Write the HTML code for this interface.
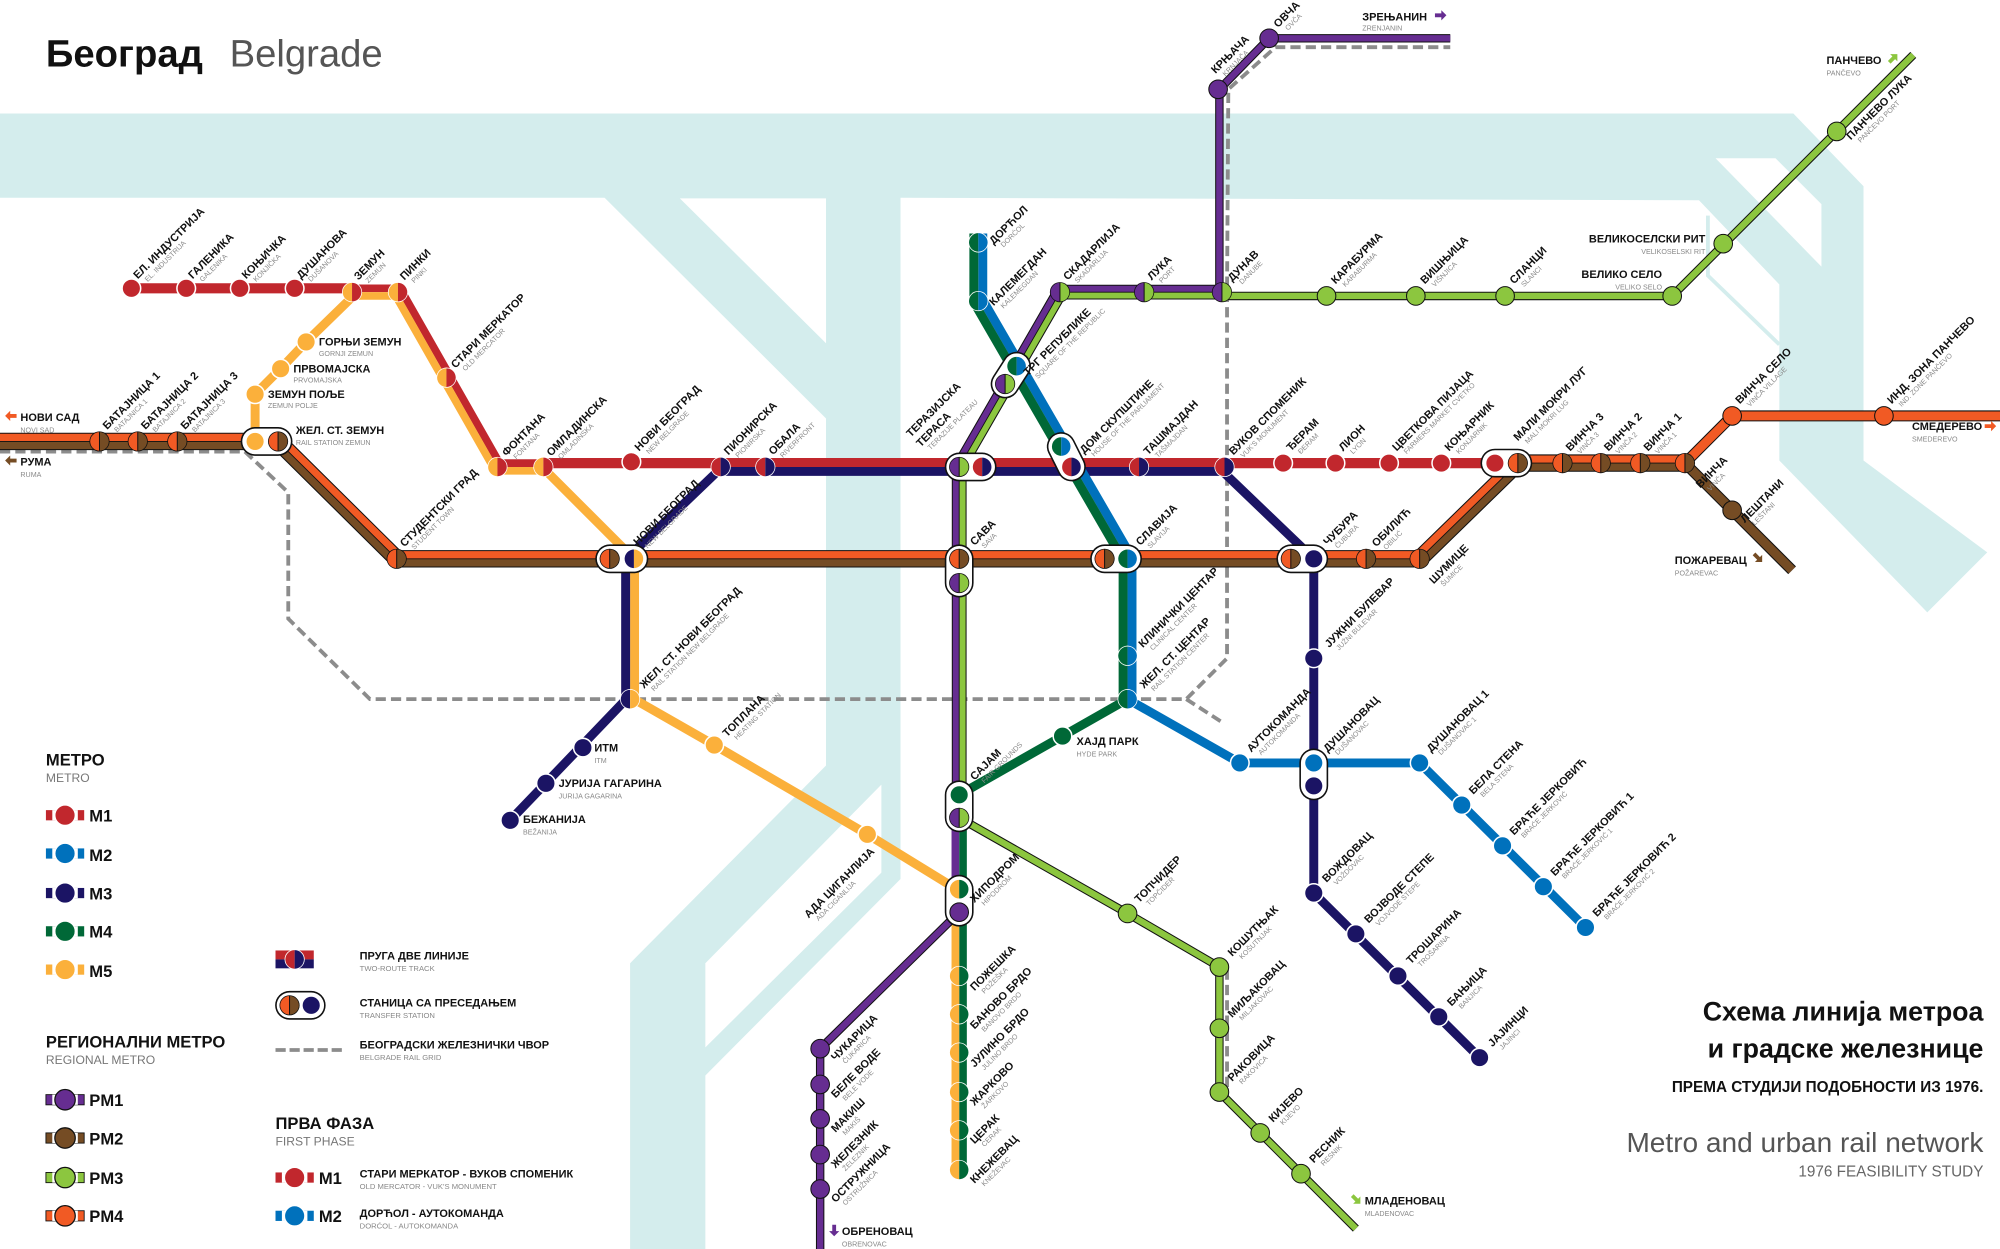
<!DOCTYPE html>
<html><head><meta charset="utf-8">
<style>
html,body{margin:0;padding:0;background:#fff;}
svg{display:block;}
text{font-family:"Liberation Sans","DejaVu Sans",sans-serif;}
.n{font-size:8.6px;font-weight:bold;fill:#111;}
.s{font-size:5.6px;fill:#8a8a8a;}
.h{font-size:13px;font-weight:bold;fill:#111;}
.hs{font-size:9.5px;fill:#777;}
.lg{font-size:13px;font-weight:bold;fill:#111;}
.ln{font-size:8.6px;font-weight:bold;fill:#111;}
.ls{font-size:6px;fill:#888;}
</style></head>
<body>
<svg id="map" width="2000" height="1249" viewBox="0 0 1568 979" preserveAspectRatio="none" xmlns="http://www.w3.org/2000/svg">
<rect width="1568" height="979" fill="#fff"/>
<!-- rivers -->
<g fill="#d4eded">
<polygon points="0,89 1406,89 1461,146 1461,361 1558,433 1511,480 1395,361 1395,223 1332,157 706,155 706,689 553,843 553,979 494,979 494,755 647.6,600 647.6,328 474,155 0,155"/>
</g>
<g fill="#fff">
<polygon points="533,155.5 647.6,155.5 647.6,269"/>
<polygon points="1345,124 1392,124 1428,160 1428,209"/>
<polygon points="553,755 691,615 691,684 553,821"/>
</g>
<polyline points="1339,169 1339,216 1395,270" fill="none" stroke="#d4eded" stroke-width="3"/>
<g id="shapes"></g>

<!-- Title -->
<text x="36" y="52" style="font-size:30px;font-weight:bold;fill:#111">Београд</text>
<text x="180" y="52" style="font-size:30px;fill:#555">Belgrade</text>

<!-- rotated station labels -->
<g transform="translate(108,219) rotate(-45)"><text class="n">ЕЛ. ИНДУСТРИЈА</text><text class="s" x="4" y="7">EL. INDUSTRIJA</text></g>
<g transform="translate(151,219) rotate(-45)"><text class="n">ГАЛЕНИКА</text><text class="s" x="4" y="7">GALENIKA</text></g>
<g transform="translate(193,219) rotate(-45)"><text class="n">КОЊИЧКА</text><text class="s" x="4" y="7">KONJIČKA</text></g>
<g transform="translate(236,219) rotate(-45)"><text class="n">ДУШАНОВА</text><text class="s" x="4" y="7">DUŠANOVA</text></g>
<g transform="translate(281,220) rotate(-45)"><text class="n">ЗЕМУН</text><text class="s" x="4" y="7">ZEMUN</text></g>
<g transform="translate(317,220) rotate(-45)"><text class="n">ПИНКИ</text><text class="s" x="4" y="7">PINKI</text></g>
<g transform="translate(357,289) rotate(-45)"><text class="n">СТАРИ МЕРКАТОР</text><text class="s" x="4" y="7">OLD MERCATOR</text></g>
<g transform="translate(397,358) rotate(-45)"><text class="n">ФОНТАНА</text><text class="s" x="4" y="7">FONTANA</text></g>
<g transform="translate(432,358) rotate(-45)"><text class="n">ОМЛАДИНСКА</text><text class="s" x="4" y="7">OMLADINSKA</text></g>
<g transform="translate(501,354) rotate(-45)"><text class="n">НОВИ БЕОГРАД</text><text class="s" x="4" y="7">NEW BELGRADE</text></g>
<g transform="translate(571,357) rotate(-45)"><text class="n">ПИОНИРСКА</text><text class="s" x="4" y="7">PIONIRSKA</text></g>
<g transform="translate(606,357) rotate(-45)"><text class="n">ОБАЛА</text><text class="s" x="4" y="7">RIVERFRONT</text></g>
<g transform="translate(714,343) rotate(-45)"><text class="n">ТЕРАЗИЈСКА</text><text class="n" y="11">ТЕРАСА</text><text class="s" x="4" y="18">TERAZIJE PLATEAU</text></g>
<g transform="translate(850,356) rotate(-45)"><text class="n">ДОМ СКУПШТИНЕ</text><text class="s" x="4" y="7">HOUSE OF THE PARLIAMENT</text></g>
<g transform="translate(900,357) rotate(-45)"><text class="n">ТАШМАЈДАН</text><text class="s" x="4" y="7">TAŠMAJDAN</text></g>
<g transform="translate(967,357) rotate(-45)"><text class="n">ВУКОВ СПОМЕНИК</text><text class="s" x="4" y="7">VUK'S MONUMENT</text></g>
<g transform="translate(1012,354) rotate(-45)"><text class="n">ЂЕРАМ</text><text class="s" x="4" y="7">ĐERAM</text></g>
<g transform="translate(1053,354) rotate(-45)"><text class="n">ЛИОН</text><text class="s" x="4" y="7">LYON</text></g>
<g transform="translate(1095,354) rotate(-45)"><text class="n">ЦВЕТКОВА ПИЈАЦА</text><text class="s" x="4" y="7">FARMERS MARKET CVETKO</text></g>
<g transform="translate(1136,354) rotate(-45)"><text class="n">КОЊАРНИК</text><text class="s" x="4" y="7">KONJARNIK</text></g>
<g transform="translate(1190,346) rotate(-45)"><text class="n">МАЛИ МОКРИ ЛУГ</text><text class="s" x="4" y="7">MALI MOKRI LUG</text></g>
<g transform="translate(1231,354) rotate(-45)"><text class="n">ВИНЧА 3</text><text class="s" x="4" y="7">VINČA 3</text></g>
<g transform="translate(1261,354) rotate(-45)"><text class="n">ВИНЧА 2</text><text class="s" x="4" y="7">VINČA 2</text></g>
<g transform="translate(1292,354) rotate(-45)"><text class="n">ВИНЧА 1</text><text class="s" x="4" y="7">VINČA 1</text></g>
<g transform="translate(1333,383) rotate(-45)"><text class="n">ВИНЧА</text><text class="s" x="4" y="7">VINČA</text></g>
<g transform="translate(1364,317) rotate(-45)"><text class="n">ВИНЧА СЕЛО</text><text class="s" x="4" y="7">VINČA VILLAGE</text></g>
<g transform="translate(1483,317) rotate(-45)"><text class="n">ИНД. ЗОНА ПАНЧЕВО</text><text class="s" x="4" y="7">IND. ZONE PANČEVO</text></g>
<g transform="translate(1368,410) rotate(-45)"><text class="n">ЛЕШТАНИ</text><text class="s" x="4" y="7">LEŠTANI</text></g>
<g transform="translate(84,337) rotate(-45)"><text class="n">БАТАЈНИЦА 1</text><text class="s" x="4" y="7">BATAJNICA 1</text></g>
<g transform="translate(114,337) rotate(-45)"><text class="n">БАТАЈНИЦА 2</text><text class="s" x="4" y="7">BATAJNICA 2</text></g>
<g transform="translate(145,337) rotate(-45)"><text class="n">БАТАЈНИЦА 3</text><text class="s" x="4" y="7">BATAJNICA 3</text></g>
<g transform="translate(317,429) rotate(-45)"><text class="n">СТУДЕНТСКИ ГРАД</text><text class="s" x="4" y="7">STUDENT TOWN</text></g>
<g transform="translate(500,428) rotate(-45)"><text class="n">НОВИ БЕОГРАД</text><text class="s" x="4" y="7">NEW BELGRADE</text></g>
<g transform="translate(764,428) rotate(-45)"><text class="n">САВА</text><text class="s" x="4" y="7">SAVA</text></g>
<g transform="translate(894,428) rotate(-45)"><text class="n">СЛАВИЈА</text><text class="s" x="4" y="7">SLAVIJA</text></g>
<g transform="translate(1041,428) rotate(-45)"><text class="n">ЧУБУРА</text><text class="s" x="4" y="7">ČUBURA</text></g>
<g transform="translate(1079,429) rotate(-45)"><text class="n">ОБИЛИЋ</text><text class="s" x="4" y="7">OBILIĆ</text></g>
<g transform="translate(1124,458) rotate(-45)"><text class="n">ШУМИЦЕ</text><text class="s" x="4" y="7">ŠUMICE</text></g>
<g transform="translate(505,540) rotate(-45)"><text class="n">ЖЕЛ. СТ. НОВИ БЕОГРАД</text><text class="s" x="4" y="7">RAIL STATION NEW BELGRADE</text></g>
<g transform="translate(570,578) rotate(-45)"><text class="n">ТОПЛАНА</text><text class="s" x="4" y="7">HEATING STATION</text></g>
<g transform="translate(634,720) rotate(-45)"><text class="n">АДА ЦИГАНЛИЈА</text><text class="s" x="4" y="7">ADA CIGANLIJA</text></g>
<g transform="translate(764,708) rotate(-45)"><text class="n">ХИПОДРОМ</text><text class="s" x="4" y="7">HIPODROM</text></g>
<g transform="translate(764,777) rotate(-45)"><text class="n">ПОЖЕШКА</text><text class="s" x="4" y="7">POŽEŠKA</text></g>
<g transform="translate(764,807) rotate(-45)"><text class="n">БАНОВО БРДО</text><text class="s" x="4" y="7">BANOVO BRDO</text></g>
<g transform="translate(764,837) rotate(-45)"><text class="n">ЈУЛИНО БРДО</text><text class="s" x="4" y="7">JULINO BRDO</text></g>
<g transform="translate(764,867) rotate(-45)"><text class="n">ЖАРКОВО</text><text class="s" x="4" y="7">ŽARKOVO</text></g>
<g transform="translate(764,897) rotate(-45)"><text class="n">ЦЕРАК</text><text class="s" x="4" y="7">CERAK</text></g>
<g transform="translate(764,928) rotate(-45)"><text class="n">КНЕЖЕВАЦ</text><text class="s" x="4" y="7">KNEŽEVAC</text></g>
<g transform="translate(655,832) rotate(-45)"><text class="n">ЧУКАРИЦА</text><text class="s" x="4" y="7">ČUKARICA</text></g>
<g transform="translate(655,861) rotate(-45)"><text class="n">БЕЛЕ ВОДЕ</text><text class="s" x="4" y="7">BELE VODE</text></g>
<g transform="translate(655,888) rotate(-45)"><text class="n">МАКИШ</text><text class="s" x="4" y="7">MAKIŠ</text></g>
<g transform="translate(655,916) rotate(-45)"><text class="n">ЖЕЛЕЗНИК</text><text class="s" x="4" y="7">ŽELEZNIK</text></g>
<g transform="translate(655,943) rotate(-45)"><text class="n">ОСТРУЖНИЦА</text><text class="s" x="4" y="7">OSTRUŽNICA</text></g>
<g transform="translate(779,192) rotate(-45)"><text class="n">ДОРЋОЛ</text><text class="s" x="4" y="7">DORĆOL</text></g>
<g transform="translate(779,240) rotate(-45)"><text class="n">КАЛЕМЕГДАН</text><text class="s" x="4" y="7">KALEMEGDAN</text></g>
<g transform="translate(806,295) rotate(-45)"><text class="n">ТРГ РЕПУБЛИКЕ</text><text class="s" x="4" y="7">SQUARE OF THE REPUBLIC</text></g>
<g transform="translate(837,220) rotate(-45)"><text class="n">СКАДАРЛИЈА</text><text class="s" x="4" y="7">SKADARLIJA</text></g>
<g transform="translate(903,220) rotate(-45)"><text class="n">ЛУКА</text><text class="s" x="4" y="7">PORT</text></g>
<g transform="translate(966,221) rotate(-45)"><text class="n">ДУНАВ</text><text class="s" x="4" y="7">DANUBE</text></g>
<g transform="translate(1047,223) rotate(-45)"><text class="n">КАРАБУРМА</text><text class="s" x="4" y="7">KARABURMA</text></g>
<g transform="translate(1117,223) rotate(-45)"><text class="n">ВИШЊИЦА</text><text class="s" x="4" y="7">VIŠNJICA</text></g>
<g transform="translate(1187,223) rotate(-45)"><text class="n">СЛАНЦИ</text><text class="s" x="4" y="7">SLANCI</text></g>
<g transform="translate(1451,110) rotate(-45)"><text class="n">ПАНЧЕВО ЛУКА</text><text class="s" x="4" y="7">PANČEVO PORT</text></g>
<g transform="translate(953,58) rotate(-45)"><text class="n">КРЊАЧА</text><text class="s" x="4" y="7">KRNJAČA</text></g>
<g transform="translate(1002,22) rotate(-45)"><text class="n">ОВЧА</text><text class="s" x="4" y="7">OVČA</text></g>
<g transform="translate(896,508) rotate(-45)"><text class="n">КЛИНИЧКИ ЦЕНТАР</text><text class="s" x="4" y="7">CLINICAL CENTER</text></g>
<g transform="translate(897,540) rotate(-45)"><text class="n">ЖЕЛ. СТ. ЦЕНТАР</text><text class="s" x="4" y="7">RAIL STATION CENTER</text></g>
<g transform="translate(764,612) rotate(-45)"><text class="n">САЈАМ</text><text class="s" x="4" y="7">FAIR GROUNDS</text></g>
<g transform="translate(1042,508) rotate(-45)"><text class="n">ЈУЖНИ БУЛЕВАР</text><text class="s" x="4" y="7">JUŽNI BULEVAR</text></g>
<g transform="translate(981,590) rotate(-45)"><text class="n">АУТОКОМАНДА</text><text class="s" x="4" y="7">AUTOKOMANDA</text></g>
<g transform="translate(1041,590) rotate(-45)"><text class="n">ДУШАНОВАЦ</text><text class="s" x="4" y="7">DUŠANOVAC</text></g>
<g transform="translate(1122,590) rotate(-45)"><text class="n">ДУШАНОВАЦ 1</text><text class="s" x="4" y="7">DUŠANOVAC 1</text></g>
<g transform="translate(1155,623) rotate(-45)"><text class="n">БЕЛА СТЕНА</text><text class="s" x="4" y="7">BELA STENA</text></g>
<g transform="translate(1187,655) rotate(-45)"><text class="n">БРАЋЕ ЈЕРКОВИЋ</text><text class="s" x="4" y="7">BRAĆE JERKOVIĆ</text></g>
<g transform="translate(1219,687) rotate(-45)"><text class="n">БРАЋЕ ЈЕРКОВИЋ 1</text><text class="s" x="4" y="7">BRAĆE JERKOVIĆ 1</text></g>
<g transform="translate(1252,719) rotate(-45)"><text class="n">БРАЋЕ ЈЕРКОВИЋ 2</text><text class="s" x="4" y="7">BRAĆE JERKOVIĆ 2</text></g>
<g transform="translate(893,708) rotate(-45)"><text class="n">ТОПЧИДЕР</text><text class="s" x="4" y="7">TOPČIDER</text></g>
<g transform="translate(1040,692) rotate(-45)"><text class="n">ВОЖДОВАЦ</text><text class="s" x="4" y="7">VOŽDOVAC</text></g>
<g transform="translate(1073,724) rotate(-45)"><text class="n">ВОЈВОДЕ СТЕПЕ</text><text class="s" x="4" y="7">VOJVODE STEPE</text></g>
<g transform="translate(1106,756) rotate(-45)"><text class="n">ТРОШАРИНА</text><text class="s" x="4" y="7">TROŠARINA</text></g>
<g transform="translate(1138,789) rotate(-45)"><text class="n">БАЊИЦА</text><text class="s" x="4" y="7">BANJICA</text></g>
<g transform="translate(1170,821) rotate(-45)"><text class="n">ЈАЈИНЦИ</text><text class="s" x="4" y="7">JAJINCI</text></g>
<g transform="translate(966,750) rotate(-45)"><text class="n">КОШУТЊАК</text><text class="s" x="4" y="7">KOŠUTNJAK</text></g>
<g transform="translate(966,798) rotate(-45)"><text class="n">МИЉАКОВАЦ</text><text class="s" x="4" y="7">MILJAKOVAC</text></g>
<g transform="translate(966,848) rotate(-45)"><text class="n">РАКОВИЦА</text><text class="s" x="4" y="7">RAKOVICA</text></g>
<g transform="translate(998,880) rotate(-45)"><text class="n">КИЈЕВО</text><text class="s" x="4" y="7">KIJEVO</text></g>
<g transform="translate(1030,912) rotate(-45)"><text class="n">РЕСНИК</text><text class="s" x="4" y="7">RESNIK</text></g>

<!-- horizontal labels -->
<text class="n" x="250" y="271">ГОРЊИ ЗЕМУН</text><text class="s" x="250" y="279">GORNJI ZEMUN</text>
<text class="n" x="230" y="292">ПРВОМАЈСКА</text><text class="s" x="230" y="300">PRVOMAJSKA</text>
<text class="n" x="210" y="312">ЗЕМУН ПОЉЕ</text><text class="s" x="210" y="320">ZEMUN POLJE</text>
<text class="n" x="232" y="340">ЖЕЛ. СТ. ЗЕМУН</text><text class="s" x="232" y="349">RAIL STATION ZEMUN</text>
<text class="n" x="16" y="330">НОВИ САД</text><text class="s" x="16" y="339">NOVI SAD</text>
<text class="n" x="16" y="365">РУМА</text><text class="s" x="16" y="374">RUMA</text>
<text class="n" x="466" y="589">ИТМ</text><text class="s" x="466" y="598">ITM</text>
<text class="n" x="438" y="617">ЈУРИЈА ГАГАРИНА</text><text class="s" x="438" y="626">JURIJA GAGARINA</text>
<text class="n" x="410" y="645">БЕЖАНИЈА</text><text class="s" x="410" y="654">BEŽANIJA</text>
<text class="n" x="844" y="584">ХАЈД ПАРК</text><text class="s" x="844" y="593">HYDE PARK</text>
<text class="n" x="660" y="968">ОБРЕНОВАЦ</text><text class="s" x="660" y="977">OBRENOVAC</text>
<text class="n" x="1070" y="944">МЛАДЕНОВАЦ</text><text class="s" x="1070" y="953">MLADENOVAC</text>
<text class="n" x="1068" y="16">ЗРЕЊАНИН</text><text class="s" x="1068" y="24">ZRENJANIN</text>
<text class="n" x="1432" y="50">ПАНЧЕВО</text><text class="s" x="1432" y="59">PANČEVO</text>
<text class="n" x="1337" y="190" text-anchor="end">ВЕЛИКОСЕЛСКИ РИТ</text><text class="s" x="1337" y="199" text-anchor="end">VELIKOSELSKI RIT</text>
<text class="n" x="1303" y="218" text-anchor="end">ВЕЛИКО СЕЛО</text><text class="s" x="1303" y="227" text-anchor="end">VELIKO SELO</text>
<text class="n" x="1499" y="337">СМЕДЕРЕВО</text><text class="s" x="1499" y="346">SMEDEREVO</text>
<text class="n" x="1313" y="442">ПОЖАРЕВАЦ</text><text class="s" x="1313" y="451">POŽAREVAC</text>

<!-- legend -->
<text class="h" x="36" y="600">МЕТРО</text><text class="hs" x="36" y="613">METRO</text>
<text class="lg" x="70" y="644">M1</text>
<text class="lg" x="70" y="675">M2</text>
<text class="lg" x="70" y="705">M3</text>
<text class="lg" x="70" y="735">M4</text>
<text class="lg" x="70" y="766">M5</text>
<text class="h" x="36" y="821">РЕГИОНАЛНИ МЕТРО</text><text class="hs" x="36" y="834">REGIONAL METRO</text>
<text class="lg" x="70" y="867">PM1</text>
<text class="lg" x="70" y="897">PM2</text>
<text class="lg" x="70" y="928">PM3</text>
<text class="lg" x="70" y="958">PM4</text>
<text class="ln" x="282" y="752">ПРУГА ДВЕ ЛИНИЈЕ</text><text class="ls" x="282" y="761">TWO-ROUTE TRACK</text>
<text class="ln" x="282" y="789">СТАНИЦА СА ПРЕСЕДАЊЕМ</text><text class="ls" x="282" y="798">TRANSFER STATION</text>
<text class="ln" x="282" y="822">БЕОГРАДСКИ ЖЕЛЕЗНИЧКИ ЧВОР</text><text class="ls" x="282" y="831">BELGRADE RAIL GRID</text>
<text class="h" x="216" y="885">ПРВА ФАЗА</text><text class="hs" x="216" y="898">FIRST PHASE</text>
<text class="lg" x="250" y="928">M1</text>
<text class="ln" x="282" y="923">СТАРИ МЕРКАТОР - ВУКОВ СПОМЕНИК</text><text class="ls" x="282" y="932">OLD MERCATOR - VUK'S MONUMENT</text>
<text class="lg" x="250" y="958">M2</text>
<text class="ln" x="282" y="954">ДОРЋОЛ - АУТОКОМАНДА</text><text class="ls" x="282" y="963">DORĆOL - AUTOKOMANDA</text>

<!-- bottom right title -->
<text x="1555" y="800" text-anchor="end" style="font-size:21px;font-weight:bold;fill:#111">Схема линија метроа</text>
<text x="1555" y="829" text-anchor="end" style="font-size:21px;font-weight:bold;fill:#111">и градске  железнице</text>
<text x="1555" y="856" text-anchor="end" style="font-size:12px;font-weight:bold;fill:#111">ПРЕМА СТУДИЈИ ПОДОБНОСТИ ИЗ 1976.</text>
<text x="1555" y="903" text-anchor="end" style="font-size:22px;fill:#555">Metro and urban rail network</text>
<text x="1555" y="922" text-anchor="end" style="font-size:12px;fill:#666">1976 FEASIBILITY STUDY</text>
</svg>
<script>
(function(){
const C={r:'#c1272d',b:'#0071bc',n:'#1b1464',g:'#006837',y:'#fbb03b',p:'#662d91',br:'#754c24',lg:'#8cc63f',o:'#f15a24',k:'#111'};
const S=[];
const P=a=>a.map(p=>p[0].toFixed(1)+','+p[1].toFixed(1)).join(' ');
function poly(pts,c,w,ex){S.push('<polyline points="'+P(pts)+'" fill="none" stroke="'+c+'" stroke-width="'+w+'" stroke-linejoin="miter" '+(ex||'')+'/>');}
function segN(a,b){const dx=b[0]-a[0],dy=b[1]-a[1],L=Math.hypot(dx,dy);return [dy/L,-dx/L];}
function off(pts,d){const r=[];for(let i=0;i<pts.length;i++){let n;
 if(i==0)n=segN(pts[0],pts[1]);else if(i==pts.length-1)n=segN(pts[i-1],pts[i]);
 else{const a=segN(pts[i-1],pts[i]),b=segN(pts[i],pts[i+1]);const m=[a[0]+b[0],a[1]+b[1]];const dt=m[0]*a[0]+m[1]*a[1];n=[m[0]/dt,m[1]/dt];}
 r.push([pts[i][0]+n[0]*d,pts[i][1]+n[1]*d]);}return r;}
function twin(pts,cp,cm,w,ol){if(ol)poly(pts,C.k,2*w+1.6);poly(off(pts,w/2),cp,w);poly(off(pts,-w/2),cm,w);if(ol)poly(pts,C.k,0.7);}
function one(pts,c,w,ol){if(ol)poly(pts,C.k,w+1.6);poly(pts,c,w);}
const dash='stroke-dasharray="8,4"';
// dashed rail
poly([[0,354],[192,354],[226,386],[226,485],[290,548],[930,548],[962,516],[962,229],[963,70],[1000,37],[1137,37]],'#8c8c8c',3,dash);
poly([[930,548],[958,566]],'#8c8c8c',3,dash);
poly([[962,760],[962,860],[1058,956]],'#8c8c8c',3,dash);
// lines
one([[103,226],[279,226]],C.r,8);
twin([[276,229],[312,229],[390,366],[426,366]],C.r,C.y,6);
one([[426,363],[568,363]],C.r,8);
twin([[565,366],[962,366]],C.r,C.n,7);
one([[960,363],[1172,363]],C.r,8);
one([[200,346],[200,309],[220,289],[240,268],[277,232]],C.y,7);
one([[428,369],[497,438]],C.y,7);
twin([[494,438],[494,548]],C.y,C.n,7);
one([[497,548],[560,584],[680,654],[750,697]],C.y,7);
one([[491,548],[400,643]],C.n,7);
one([[491,438],[562,370]],C.n,7);
one([[958,369],[1030,438],[1030,700],[1160,829]],C.n,7);
twin([[767,183],[767,236],[884,438],[884,548]],C.b,C.g,7);
one([[884,548],[833,577],[752,623]],C.g,7);
one([[884,548],[972,598],[1113,598],[1243,727]],C.b,7);
twin([[958,229],[831,229],[752,366],[752,641]],C.lg,C.p,5,true);
twin([[752,641],[752,697]],C.g,C.p,6);
twin([[752,697],[752,917]],C.g,C.y,6);
one([[956,229],[956,70],[995,30],[1137,30]],C.p,5,true);
one([[752,715],[643,822],[643,979]],C.p,5,true);
one([[958,232],[1311,232],[1500,43]],C.lg,5,true);
one([[752,641],[884,716],[956,758],[956,856],[1063,963]],C.lg,5,true);
twin([[0,346],[218,346],[311,438],[1113,438],[1190,363],[1321,363]],C.o,C.br,6,true);
one([[1321,363],[1358,326],[1568,326]],C.o,7,true);
one([[1321,363],[1405,447]],C.br,7,true);
// pills
const R=7.3;
function pill(a,b){S.push('<line x1="'+a[0]+'" y1="'+a[1]+'" x2="'+b[0]+'" y2="'+b[1]+'" stroke="#111" stroke-width="'+(2*R+8)+'" stroke-linecap="round"/>');
 S.push('<line x1="'+a[0]+'" y1="'+a[1]+'" x2="'+b[0]+'" y2="'+b[1]+'" stroke="#fff" stroke-width="'+(2*R+5.5)+'" stroke-linecap="round"/>');}
[[[200,346],[218,346]],[[478,438],[497,438]],[[752,438],[752,457]],[[866,438],[884,438]],[[1012,438],[1030,438]],[[1172,363],[1190,363]],[[752,366],[770,366]],[[832,350],[840,366]],[[797,287],[788,301]],[[752,623],[752,641]],[[752,697],[752,715]],[[1030,598],[1030,616]]].forEach(p=>pill(p[0],p[1]));
function st(x,y,c1,c2,pm){
 if(!c2){S.push('<circle cx="'+x+'" cy="'+y+'" r="'+R+'" fill="'+c1+'" stroke="'+(pm?'#111':'#fff')+'" stroke-width="'+(pm?0.8:1.2)+'"/>');return;}
 S.push('<circle cx="'+x+'" cy="'+y+'" r="'+(R+0.6)+'" fill="'+(pm?'#111':'#fff')+'"/>');
 S.push('<path d="M'+x+' '+(y-R)+'A'+R+' '+R+' 0 0 0 '+x+' '+(y+R)+'Z" fill="'+c1+'"/>');
 S.push('<path d="M'+x+' '+(y-R)+'A'+R+' '+R+' 0 0 1 '+x+' '+(y+R)+'Z" fill="'+c2+'"/>');
 if(pm)S.push('<line x1="'+x+'" y1="'+(y-R)+'" x2="'+x+'" y2="'+(y+R)+'" stroke="#111" stroke-width="0.8"/>');
}
[[103,226],[146,226],[188,226],[231,226],[1006,363],[1047,363],[1089,363],[1130,363],[495,362],[1172,363]].forEach(p=>st(p[0],p[1],C.r));
[[276,229],[312,229],[350,296],[390,366],[426,366]].forEach(p=>st(p[0],p[1],C.y,C.r));
[[565,366],[600,366],[893,366],[960,366],[770,366],[840,366]].forEach(p=>st(p[0],p[1],C.r,C.n));
[[240,268],[220,289],[200,309],[200,346],[560,584],[680,654]].forEach(p=>st(p[0],p[1],C.y));
[[497,438],[494,548]].forEach(p=>st(p[0],p[1],C.n,C.y));
[[457,586],[428,614],[400,643],[1030,438],[1030,516],[1030,616],[1030,700],[1063,732],[1096,765],[1128,797],[1160,829]].forEach(p=>st(p[0],p[1],C.n));
[[972,598],[1030,598],[1113,598],[1146,631],[1178,663],[1210,695],[1243,727]].forEach(p=>st(p[0],p[1],C.b));
[[767,190],[767,236],[797,287],[832,350],[884,438],[884,514],[884,548]].forEach(p=>st(p[0],p[1],C.g,C.b));
[[833,577],[752,623]].forEach(p=>st(p[0],p[1],C.g));
[[752,697],[752,765],[752,795],[752,825],[752,856],[752,886],[752,917]].forEach(p=>st(p[0],p[1],C.y,C.g));
[[831,229],[897,229],[958,229],[788,301],[752,366],[752,457],[752,641]].forEach(p=>st(p[0],p[1],C.p,C.lg,true));
[[955,70],[995,30],[643,822],[643,850],[643,877],[643,905],[643,932],[752,715]].forEach(p=>st(p[0],p[1],C.p,null,true));
[[1040,232],[1110,232],[1180,232],[1311,232],[1351,191],[1440,103],[884,716],[956,758],[956,806],[956,856],[988,888],[1020,920]].forEach(p=>st(p[0],p[1],C.lg,null,true));
[[78,346],[108,346],[139,346],[218,346],[311,438],[478,438],[752,438],[866,438],[1012,438],[1071,438],[1113,438],[1190,363],[1225,363],[1255,363],[1286,363],[1321,363]].forEach(p=>st(p[0],p[1],C.o,C.br,true));
[[1358,326],[1477,326]].forEach(p=>st(p[0],p[1],C.o,null,true));
st(1358,400,C.br,null,true);
// legend icons
function icon(y,c,pm,x0){x0=x0||36;S.push('<rect x="'+x0+'" y="'+(y-4)+'" width="30" height="8" fill="'+c+'" stroke="'+(pm?'#111':'none')+'" stroke-width="0.7"/>');
 S.push('<rect x="'+(x0+5)+'" y="'+(y-4)+'" width="3" height="8" fill="#fff"/><rect x="'+(x0+22)+'" y="'+(y-4)+'" width="3" height="8" fill="#fff"/>');
 S.push('<circle cx="'+(x0+15)+'" cy="'+y+'" r="8" fill="'+c+'" stroke="'+(pm?'#111':'#fff')+'" stroke-width="1"/>');}
icon(639,C.r);icon(669,C.b);icon(700,C.n);icon(730,C.g);icon(760,C.y);
icon(862,C.p,1);icon(892,C.br,1);icon(923,C.lg,1);icon(953,C.o,1);
icon(923,C.r,0,216);icon(953,C.b,0,216);
// two-route icon
S.push('<rect x="216" y="745" width="30" height="7" fill="'+C.r+'"/><rect x="216" y="752" width="30" height="7" fill="'+C.n+'"/>');
st(231,752,C.r,C.n);
pill([227,788],[244,788]);st(227,788,C.o,C.br,true);st(244,788,C.n);
poly([[216,823],[270,823]],'#8c8c8c',3,'stroke-dasharray="8,3"');
// arrows
function arr(x,y,c,ang){S.push('<g transform="translate('+x+','+y+') rotate('+ang+')"><path d="M-4,-1.5 L1,-1.5 L1,-4 L5,0 L1,4 L1,1.5 L-4,1.5Z" fill="'+c+'"/></g>');}
arr(9,326,C.o,180);arr(9,361,C.br,180);arr(1129,12,C.p,0);arr(1484,46,C.lg,-45);
arr(1560,334,C.o,0);arr(1378,437,C.br,45);arr(654,964,C.p,90);arr(1063,940,C.lg,45);
document.getElementById('shapes').innerHTML=S.join('');
})();
</script>
</body></html>
